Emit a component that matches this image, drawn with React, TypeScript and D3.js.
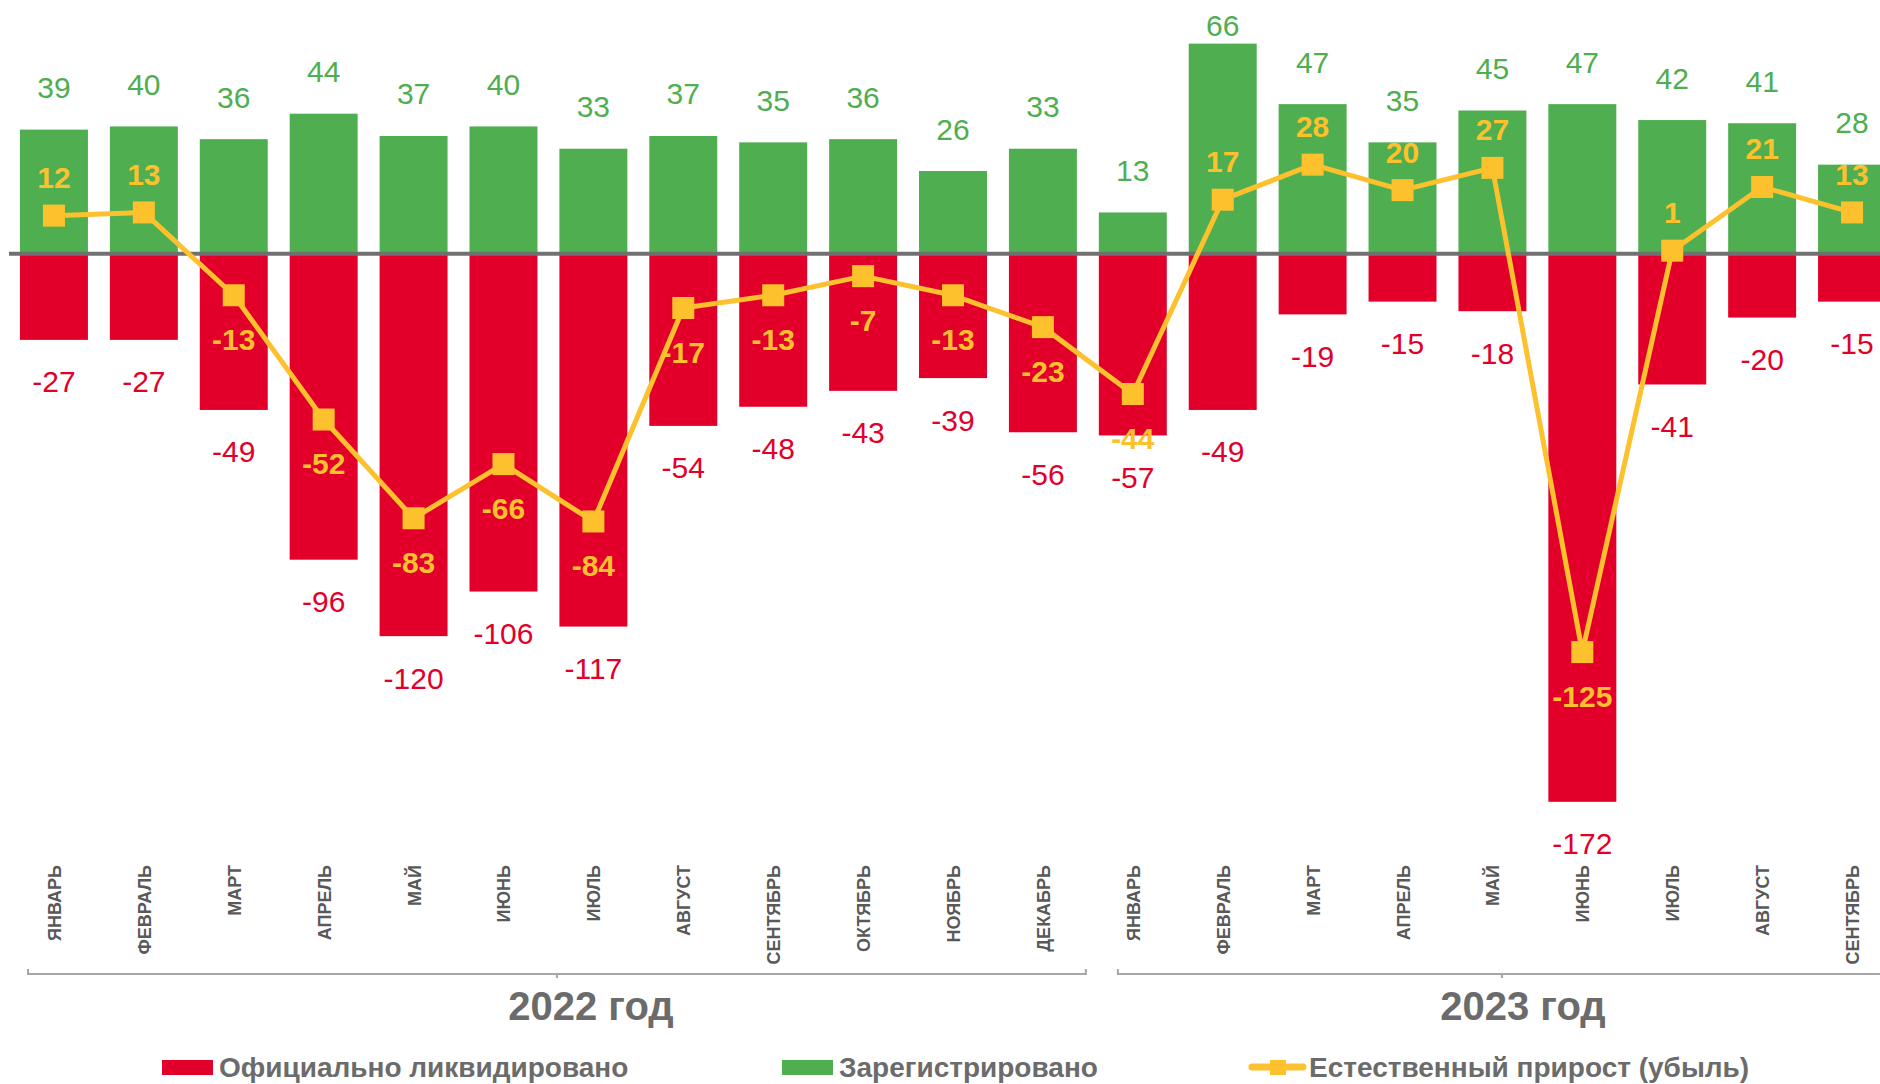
import React from "react";
import * as d3 from "d3";

const months: string[] = [
  "ЯНВАРЬ", "ФЕВРАЛЬ", "МАРТ", "АПРЕЛЬ", "МАЙ", "ИЮНЬ", "ИЮЛЬ", "АВГУСТ", "СЕНТЯБРЬ", "ОКТЯБРЬ", "НОЯБРЬ", "ДЕКАБРЬ",
  "ЯНВАРЬ", "ФЕВРАЛЬ", "МАРТ", "АПРЕЛЬ", "МАЙ", "ИЮНЬ", "ИЮЛЬ", "АВГУСТ", "СЕНТЯБРЬ",
];
const years: string[] = ["2022 год", "2023 год"];
const yearCounts: number[] = [12, 9];

const registered: number[] = [39, 40, 36, 44, 37, 40, 33, 37, 35, 36, 26, 33, 13, 66, 47, 35, 45, 47, 42, 41, 28];
const liquidated: number[] = [-27, -27, -49, -96, -120, -106, -117, -54, -48, -43, -39, -56, -57, -49, -19, -15, -18, -172, -41, -20, -15];
const natural: number[] = [12, 13, -13, -52, -83, -66, -84, -17, -13, -7, -13, -23, -44, 17, 28, 20, 27, -125, 1, 21, 13];

const legendLabels: string[] = ["Официально ликвидировано", "Зарегистрировано", "Естественный прирост (убыль)"];

const W = 1880;
const H = 1084;
const GREEN = "#4FAE50";
const RED = "#E2002B";
const YELLOW = "#FDC12E";
const GRAY_TEXT = "#6B6B6B";
const FONT = "'Liberation Sans', Arial, sans-serif";

export default function App() {
  const idx = months.map((_, i) => i);
  const x = d3.scaleBand<number>().domain(idx).range([9, 1897]).paddingInner(0.244).paddingOuter(0.122);
  const y = d3.scaleLinear().domain([-200, 80]).range([891, -1]);
  const cx = (i: number) => (x(i) as number) + x.bandwidth() / 2;
  const y0 = y(0);

  const line = d3.line<number>().x((_, i) => cx(i)).y((d) => y(d));

  // year group brackets
  let start = 0;
  const groups = years.map((label, gi) => {
    const s = start;
    start = s + yearCounts[gi];
    const bStart = (x(s) as number) - (x.step() * x.paddingInner()) / 2;
    const bEnd = bStart + x.step() * yearCounts[gi];
    const x0 = gi === 0 ? bStart + 19 : bStart + 30;
    const x1 = gi === 0 ? bEnd - 2 : bEnd - 11;
    const mid = (x0 + x1) / 2;
    return { label, x0, x1, mid, labelX: mid + (gi === 0 ? 34 : 21) };
  });

  const bracketY = 974;

  return (
    <div style={{ position: "fixed", left: 0, top: 0 }}>
      <svg width={W} height={H} style={{ display: "block", background: "#fff" }} fontFamily={FONT}>
        {/* bars */}
        {registered.map((v, i) => (
          <rect key={"g" + i} x={x(i)} y={y(v)} width={x.bandwidth()} height={y0 - y(v)} fill={GREEN} />
        ))}
        {liquidated.map((v, i) => (
          <rect key={"r" + i} x={x(i)} y={y0} width={x.bandwidth()} height={y(v) - y0} fill={RED} />
        ))}
        {/* zero line */}
        <line x1={9} x2={W} y1={y0} y2={y0} stroke="#707070" strokeWidth={4} />
        {/* natural growth line */}
        <path d={line(natural) || ""} fill="none" stroke={YELLOW} strokeWidth={5} strokeLinejoin="round" />
        {natural.map((v, i) => (
          <rect key={"m" + i} x={cx(i) - 11} y={y(v) - 11} width={22} height={22} fill={YELLOW} />
        ))}
        {/* labels registered */}
        {registered.map((v, i) => (
          <text key={"gl" + i} x={cx(i)} y={Math.max(y(v) - 42, 25) + 10.5} textAnchor="middle" fontSize={30} fill={GREEN}>
            {v}
          </text>
        ))}
        {liquidated.map((v, i) => (
          <text key={"rl" + i} x={cx(i)} y={y(v) + 42 + 10.5} textAnchor="middle" fontSize={30} fill={RED}>
            {v}
          </text>
        ))}
        {natural.map((v, i) => (
          <text
            key={"nl" + i}
            x={cx(i)}
            y={(v >= 0 ? y(v) - 38 : y(v) + 44) + 10.5}
            textAnchor="middle"
            fontSize={30}
            fontWeight="bold"
            fill={YELLOW}
          >
            {v}
          </text>
        ))}
        {/* month labels */}
        {months.map((m, i) => (
          <text
            key={"ml" + i}
            transform={`translate(${cx(i) + 7},865) rotate(-90)`}
            textAnchor="end"
            fontSize={18}
            fontWeight="bold"
            fill="#595959"
          >
            {m}
          </text>
        ))}
        {/* year brackets */}
        {groups.map((g, gi) => (
          <g key={"yr" + gi}>
            <path
              d={`M${g.x0},${bracketY - 5}V${bracketY}H${g.x1}V${bracketY - 5}M${g.mid},${bracketY}V${bracketY + 4}`}
              fill="none"
              stroke="#A6A6A6"
              strokeWidth={2}
            />
            <text x={g.labelX} y={1020} textAnchor="middle" fontSize={40} fontWeight="bold" fill={GRAY_TEXT}>
              {g.label}
            </text>
          </g>
        ))}
        {/* legend */}
        <g>
          <rect x={162} y={1060} width={51} height={15} fill={RED} />
          <text x={219} y={1077} fontSize={28} fontWeight="bold" fill={GRAY_TEXT}>{legendLabels[0]}</text>
          <rect x={782} y={1060} width={51} height={15} fill={GREEN} />
          <text x={839} y={1077} fontSize={28} fontWeight="bold" fill={GRAY_TEXT}>{legendLabels[1]}</text>
          <line x1={1252} x2={1303} y1={1067} y2={1067} stroke={YELLOW} strokeWidth={7} strokeLinecap="round" />
          <rect x={1270} y={1060} width={16} height={15} fill={YELLOW} />
          <text x={1309} y={1077} fontSize={28} fontWeight="bold" fill={GRAY_TEXT}>{legendLabels[2]}</text>
        </g>
      </svg>
    </div>
  );
}
